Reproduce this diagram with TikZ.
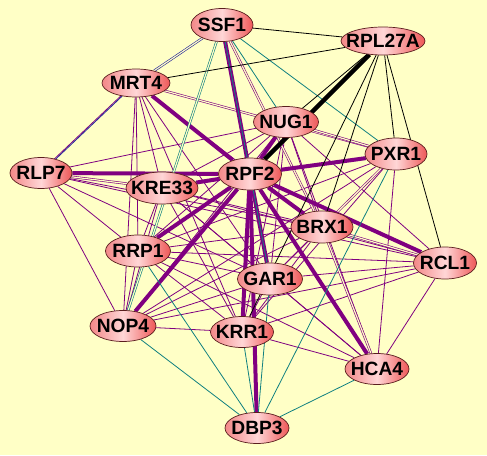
\documentclass[tikz,border=0pt]{standalone}
\usepackage{fontspec}
\setmainfont{Liberation Sans}
\usetikzlibrary{shapes.geometric}

\definecolor{bgc}{HTML}{FFFFC6}
\definecolor{ppl}{HTML}{800080}
\definecolor{tl}{HTML}{108080}
\definecolor{nv}{HTML}{22229A}
\definecolor{nodeedge}{HTML}{5A1E1E}
\definecolor{nodeleft}{HTML}{F38888}
\definecolor{nodemid}{HTML}{FFD6D6}
\definecolor{noderight}{HTML}{EE5858}

\pgfdeclarelayer{edges}
\pgfsetlayers{edges,main}

\tikzset{
  gene/.style={ellipse, draw=nodeedge, line width=0.7pt,
    left color=nodeleft, right color=noderight, middle color=nodemid,
    minimum width=#1, minimum height=31pt, inner sep=0pt,
    font=\bfseries\fontsize{19.2}{21}\selectfont},
  pl/.style={ppl, line width=0.8pt},
  pd/.style={draw=ppl, double=bgc, double distance=1.2pt, line width=0.6pt},
  pk/.style={ppl, line width=4pt},
  tl1/.style={tl, line width=0.8pt},
  td/.style={draw=tl, double=bgc, double distance=1.2pt, line width=0.6pt},
  bl/.style={black, line width=0.8pt},
  bk/.style={black, line width=4.5pt},
  nvd/.style={draw=nv, double=bgc, double distance=1.2pt, line width=0.6pt}
}

\begin{document}
\begin{tikzpicture}[x=1pt, y=-1pt]
  \useasboundingbox (0,0) rectangle (487,455);

  % genes
  \node[gene=62, minimum height=33pt] (ssf) at (222,25) {\makebox[0pt]{SSF1}};
  \node[gene=84, minimum height=28pt] (rpl) at (383,41) {\makebox[0pt]{RPL27A}};
  \node[gene=68, minimum height=28pt] (mrt) at (136,83) {\makebox[0pt]{MRT4}};
  \node[gene=65] (nug) at (286,122) {\makebox[0pt]{NUG1}};
  \node[gene=62, minimum height=32pt] (pxr) at (396,154) {\makebox[0pt]{PXR1}};
  \node[gene=62] (rlp) at (41,173) {\makebox[0pt]{RLP7}};
  \node[gene=72, minimum height=32pt] (kre) at (162,188) {\makebox[0pt]{KRE33}};
  \node[gene=63, minimum height=32pt] (rpf) at (250,174) {\makebox[0pt]{RPF2}};
  \node[gene=62, minimum height=32pt] (brx) at (322,227) {\makebox[0pt]{BRX1}};
  \node[gene=63, minimum height=32pt] (rcl) at (445,263) {\makebox[0pt]{RCL1}};
  \node[gene=65, minimum height=32pt] (rrp) at (138,251) {\makebox[0pt]{RRP1}};
  \node[gene=65, minimum height=32pt] (gar) at (270,279) {\makebox[0pt]{GAR1}};
  \node[gene=66] (nop) at (123,326) {\makebox[0pt]{NOP4}};
  \node[gene=63] (krr) at (242,332) {\makebox[0pt]{KRR1}};
  \node[gene=64] (hca) at (377,369) {\makebox[0pt]{HCA4}};
  \node[gene=64] (dbp) at (257,428) {\makebox[0pt]{DBP3}};

  \begin{pgfonlayer}{edges}
    \fill[bgc] (0,0) rectangle (487,455);

    % thin purple
    \foreach \a/\b in {mrt/kre, mrt/rrp, mrt/nop, mrt/gar, mrt/krr, mrt/brx,
        rlp/nug, rlp/rrp, rlp/nop, rlp/gar, rlp/brx, rlp/rcl,
        kre/nug, kre/pxr, kre/brx, kre/gar, kre/krr, kre/rrp, kre/nop, kre/rcl, kre/hca,
        nug/brx, nug/gar, nug/krr, nug/rrp, nug/rcl, nug/nop, nug/hca,
        pxr/gar, pxr/krr, pxr/rrp, pxr/hca, pxr/nop,
        brx/gar, brx/krr, brx/rrp, brx/nop,
        rcl/gar, rcl/krr, rcl/rrp, rcl/hca, rcl/nop,
        rrp/gar, rrp/krr, rrp/nop, rrp/hca,
        gar/krr, gar/nop, gar/hca, krr/nop, krr/hca}
      \draw[pl] (\a) -- (\b);
    \draw[pl, transform canvas={xshift=-1.5pt}] (mrt) -- (rlp);

    % doubled purple
    \foreach \a/\b in {mrt/pxr, rlp/kre, ssf/brx, brx/rcl, brx/hca, pxr/brx, nug/pxr}
      \draw[pd] (\a) -- (\b);

    % thick purple
    \foreach \a/\b in {ssf/rpf, mrt/rpf, rlp/rpf, kre/rpf, rpf/nug, rpf/pxr, rpf/brx,
        rpf/rcl, rpf/hca, rpf/gar, rpf/krr, rpf/dbp, rpf/rrp, rpf/nop}
      \draw[pk] (\a) -- (\b);

    % teal
    \foreach \a/\b in {ssf/nug, ssf/pxr, ssf/gar, nop/dbp, rrp/dbp, pxr/dbp,
        hca/dbp, gar/dbp, krr/dbp}
      \draw[tl1] (\a) -- (\b);
    \draw[td] (ssf) -- (nop);

    % black
    \foreach \a/\b in {ssf/rpl, mrt/rpl, rpl/nug, rpl/pxr, rpl/rcl, rpl/brx, rpl/krr}
      \draw[bl] (\a) -- (\b);
    \draw[bk] (rpl) -- (rpf);

    % blue
    \draw[nvd] (ssf) -- (mrt);
    \draw[nv, line width=0.8pt] (mrt) -- (rlp);
  \end{pgfonlayer}
\end{tikzpicture}
\end{document}
